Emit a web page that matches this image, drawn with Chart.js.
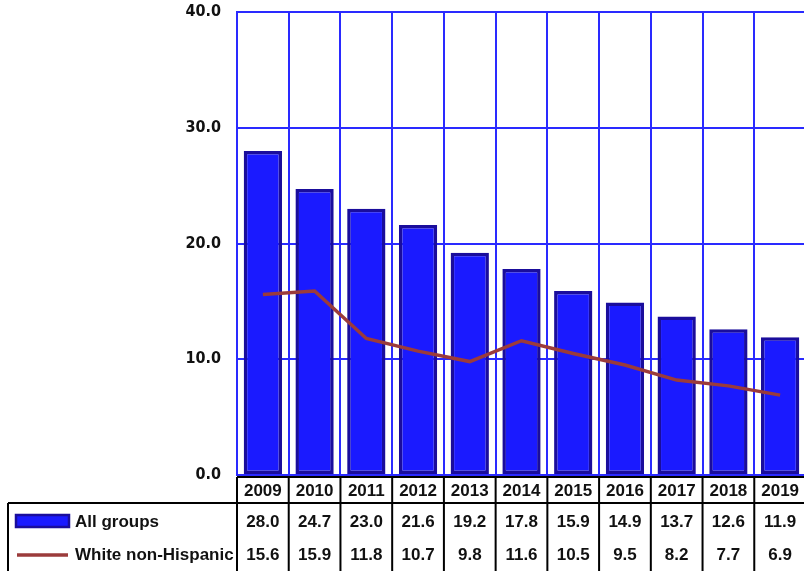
<!DOCTYPE html>
<html><head><meta charset="utf-8">
<script src="https://cdn.jsdelivr.net/npm/chart.js@4"></script>
<style>html,body{margin:0;padding:0;background:#fff;overflow:hidden;}#wrap{width:804px;height:571px;overflow:hidden;}</style>
</head><body><div id="wrap"><canvas id="c" width="808" height="571"></canvas></div>
<script>
const years = ['2009','2010','2011','2012','2013','2014','2015','2016','2017','2018','2019'];
const allGroups = [28.0, 24.7, 23.0, 21.6, 19.2, 17.8, 15.9, 14.9, 13.7, 12.6, 11.9];
const whiteNonHispanic = [15.6, 15.9, 11.8, 10.7, 9.8, 11.6, 10.5, 9.5, 8.2, 7.7, 6.9];
const seriesNames = ['All groups', 'White non-Hispanic'];
const yTicks = [0, 10, 20, 30, 40];

const BAR_FILL = '#1a1aff', BAR_BORDER = '#1a0d9c', LINE_COLOR = '#9b3b3b', GRID = '#2a2aff';
const tableFont = 'bold 17px "Liberation Sans", Arial, sans-serif';

const tablePlugin = {
  id: 'dataTable',
  afterDraw(chart) {
    const ctx = chart.ctx, x = chart.scales.x, area = chart.chartArea;
    const n = years.length;
    const colW = (area.right - area.left) / n;
    const top = area.bottom + 2, yearBottom = 503, bottom = 575, legLeft = 8;
    ctx.save();
    ctx.strokeStyle = '#000'; ctx.lineWidth = 2;
    ctx.beginPath();
    ctx.moveTo(area.left, top); ctx.lineTo(area.right + 5, top);
    ctx.moveTo(legLeft, yearBottom); ctx.lineTo(area.right + 5, yearBottom);
    ctx.moveTo(legLeft, yearBottom); ctx.lineTo(legLeft, bottom);
    for (let i = 0; i <= n; i++) {
      const xx = area.left + i * colW;
      ctx.moveTo(xx, top); ctx.lineTo(xx, bottom);
    }
    ctx.stroke();
    ctx.fillStyle = '#111'; ctx.font = tableFont;
    ctx.textAlign = 'center'; ctx.textBaseline = 'middle';
    years.forEach((yr, i) => {
      const cx = x.getPixelForValue(i);
      ctx.fillText(yr, cx, 491);
      ctx.fillText(allGroups[i].toFixed(1), cx, 522);
      ctx.fillText(whiteNonHispanic[i].toFixed(1), cx, 555);
    });
    // legend
    ctx.fillStyle = BAR_FILL; ctx.fillRect(16, 515, 53, 12);
    ctx.strokeStyle = BAR_BORDER; ctx.lineWidth = 2.5; ctx.strokeRect(16, 515, 53, 12);
    ctx.strokeStyle = LINE_COLOR; ctx.lineWidth = 3.5;
    ctx.beginPath(); ctx.moveTo(17, 555); ctx.lineTo(68, 555); ctx.stroke();
    ctx.fillStyle = '#111'; ctx.textAlign = 'left';
    ctx.fillText(seriesNames[0], 75, 522);
    ctx.fillText(seriesNames[1], 75, 555);
    ctx.restore();
  }
};

new Chart(document.getElementById('c'), {
  data: {
    labels: years,
    datasets: [
      { type: 'line', label: seriesNames[1], data: whiteNonHispanic, borderColor: LINE_COLOR,
        borderWidth: 3.5, pointRadius: 0, tension: 0, order: 0 },
      { type: 'bar', label: seriesNames[0], data: allGroups, backgroundColor: BAR_FILL,
        borderColor: BAR_BORDER, borderWidth: 3.5, borderSkipped: false,
        categoryPercentage: 1, barPercentage: 0.74, order: 1 }
    ]
  },
  options: {
    responsive: false, animation: false,
    layout: { padding: { top: 12, right: 2, bottom: 96, left: 0 } },
    plugins: { legend: { display: false }, tooltip: { enabled: false } },
    scales: {
      x: { offset: true, grid: { offset: true, color: GRID, lineWidth: 2, drawTicks: false },
           border: { display: false }, ticks: { display: false } },
      y: { min: 0, max: 40, afterBuildTicks: s => { s.ticks = yTicks.map(v => ({ value: v })); },
           afterFit: s => { s.width = 237; s.paddingTop = 0; s.paddingBottom = 0; },
           grid: { color: GRID, lineWidth: 2, drawTicks: false },
           border: { display: true, color: GRID, width: 2 },
           ticks: { padding: 16, color: '#111', font: { family: '"DejaVu Sans Condensed", "DejaVu Sans", sans-serif', weight: 'bold', size: 16 },
                    callback: v => Number(v).toFixed(1) } }
    }
  },
  plugins: [tablePlugin]
});
</script></body></html>
